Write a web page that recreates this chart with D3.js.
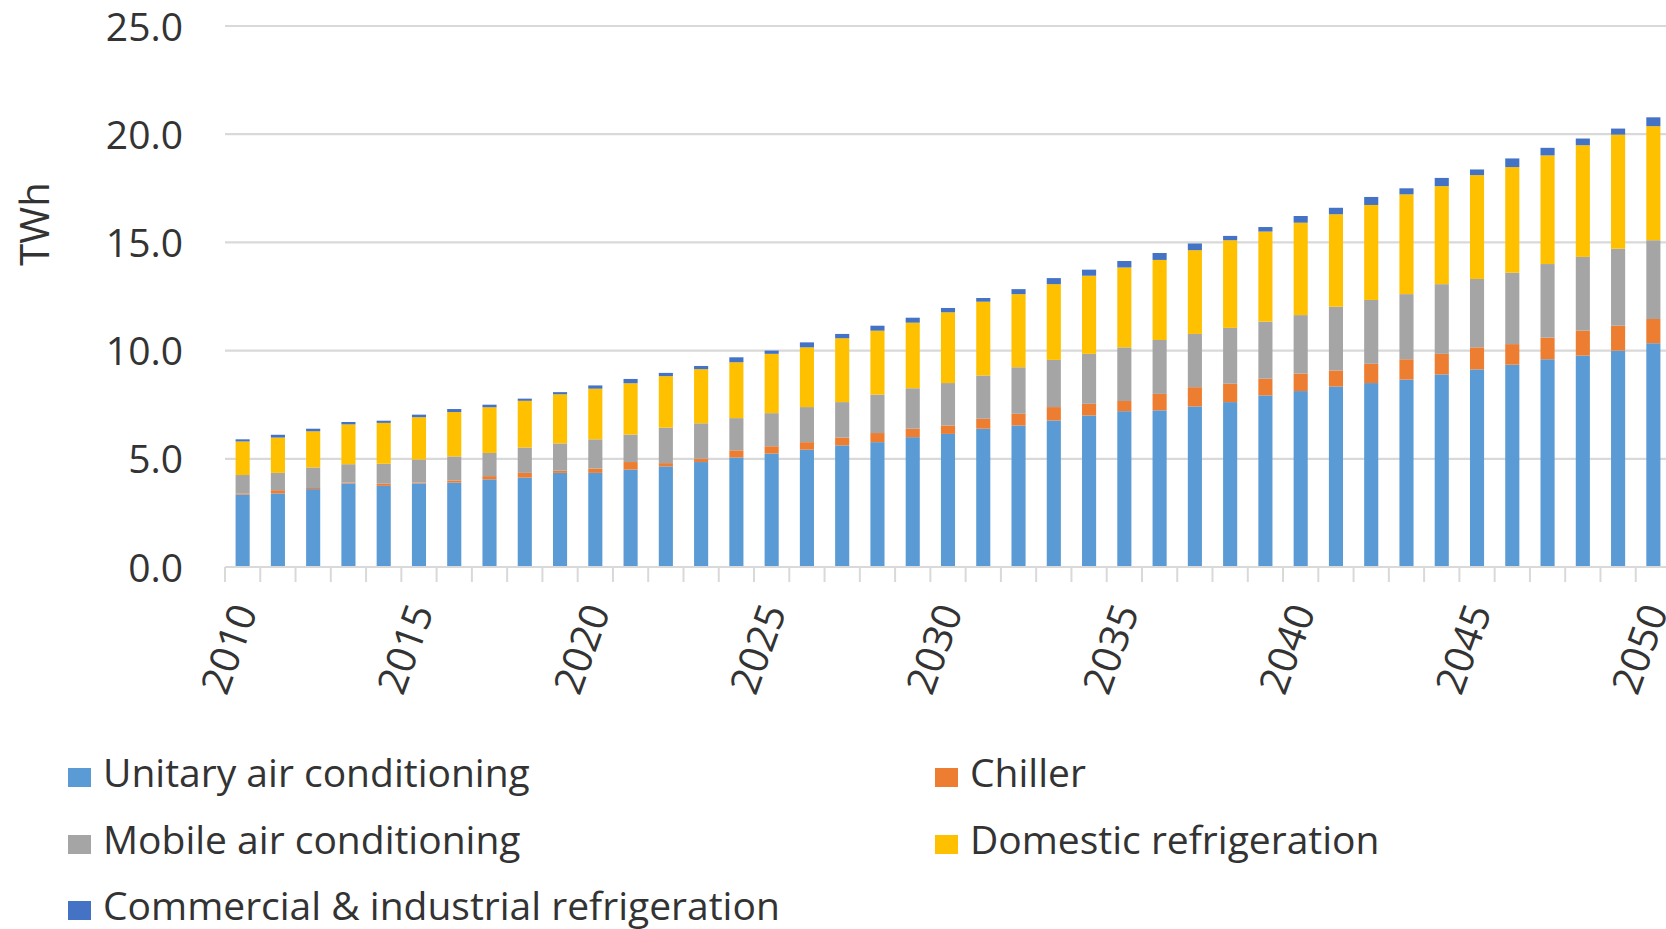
<!DOCTYPE html>
<html>
<head>
<meta charset="utf-8">
<script src="https://cdn.jsdelivr.net/npm/d3@7"></script>
<style>
  html, body { margin: 0; padding: 0; background: #fff; overflow: hidden; }
  svg { display: block; }
  text { font-family: "Open Sans", "DejaVu Sans", sans-serif; fill: #333; }
</style>
</head>
<body>
<svg id="chart" width="1666" height="929"></svg>
<script>
const years = d3.range(2010, 2051);
const unitary = [3.35,3.4,3.6,3.86,3.75,3.86,3.9,4.05,4.13,4.35,4.35,4.5,4.65,4.85,5.06,5.24,5.42,5.62,5.77,6.0,6.15,6.39,6.54,6.77,7.0,7.2,7.24,7.42,7.62,7.93,8.13,8.34,8.5,8.66,8.9,9.13,9.35,9.6,9.77,10.0,10.34];
const chiller = [0.05,0.15,0.05,0.04,0.1,0.04,0.1,0.15,0.22,0.1,0.2,0.35,0.15,0.15,0.33,0.34,0.35,0.36,0.42,0.39,0.39,0.46,0.54,0.62,0.54,0.47,0.76,0.89,0.85,0.77,0.81,0.74,0.89,0.94,0.95,1.02,0.95,1.0,1.15,1.15,1.12];
const mobile = [0.85,0.8,0.95,0.85,0.92,1.07,1.11,1.07,1.17,1.26,1.35,1.27,1.64,1.64,1.49,1.53,1.62,1.64,1.78,1.87,1.96,2.0,2.15,2.18,2.31,2.48,2.49,2.46,2.58,2.64,2.7,2.95,2.95,3.01,3.22,3.16,3.3,3.4,3.41,3.56,3.64];
const domestic = [1.55,1.63,1.67,1.84,1.89,1.95,2.05,2.11,2.16,2.27,2.34,2.37,2.38,2.5,2.58,2.74,2.76,2.95,2.95,3.03,3.27,3.41,3.38,3.5,3.61,3.69,3.7,3.87,4.05,4.16,4.27,4.27,4.39,4.61,4.53,4.8,4.88,5.02,5.16,5.27,5.27];
const commercial = [0.1,0.13,0.12,0.11,0.1,0.12,0.14,0.12,0.1,0.1,0.15,0.2,0.15,0.15,0.23,0.15,0.23,0.2,0.23,0.23,0.2,0.17,0.23,0.28,0.28,0.3,0.32,0.31,0.2,0.21,0.31,0.3,0.37,0.28,0.38,0.26,0.4,0.35,0.31,0.28,0.41];
const seriesNames = ["Unitary air conditioning","Chiller","Mobile air conditioning","Domestic refrigeration","Commercial & industrial refrigeration"];
const seriesKeys = ["unitary","chiller","mobile","domestic","commercial"];
const seriesColors = ["#5B9BD5","#ED7D31","#A5A5A5","#FFC000","#4472C4"];
const yTicks = [0,5,10,15,20,25];
const xTickLabels = [2010,2015,2020,2025,2030,2035,2040,2045,2050];
const yAxisTitle = "TWh";

const rows = years.map((y,i) => ({year:y, unitary:unitary[i], chiller:chiller[i], mobile:mobile[i], domestic:domestic[i], commercial:commercial[i]}));
const stacked = d3.stack().keys(seriesKeys)(rows);

const svg = d3.select("#chart");
const x = d3.scaleBand().domain(years).range([225, 1671]).paddingInner(0.6).paddingOuter(0.3);
const y = d3.scaleLinear().domain([0,25]).range([567, 26]);

// gridlines
svg.append("g").selectAll("line").data(yTicks.filter(d=>d>0)).join("line")
  .attr("x1", 225).attr("x2", 1671)
  .attr("y1", d=>y(d)).attr("y2", d=>y(d))
  .attr("stroke", "#d9d9d9").attr("stroke-width", 2.2);

// y axis labels
const yAxis = d3.axisLeft(y).tickValues(yTicks).tickFormat(d3.format(".1f")).tickSize(0).tickPadding(0);
const yg = svg.append("g").attr("transform","translate(183,0)").call(yAxis);
yg.select(".domain").remove();
yg.selectAll("text").style("font-size","39px").attr("fill","#333").attr("dy","0.36em").attr("x",0);

// bars
svg.append("g").selectAll("g").data(stacked).join("g")
  .attr("fill", (d,i)=>seriesColors[i])
  .selectAll("rect").data(d=>d).join("rect")
  .attr("x", d=>x(d.data.year))
  .attr("width", x.bandwidth())
  .attr("y", d=>y(d[1]))
  .attr("height", d=>Math.max(0, y(d[0]) - y(d[1])));

// x axis line and ticks (between categories)
const xg = svg.append("g");
xg.append("line").attr("x1",225).attr("x2",1671).attr("y1",y(0)).attr("y2",y(0))
  .attr("stroke","#d9d9d9").attr("stroke-width",2.2);
const step = x.step();
xg.selectAll("line.tick").data(d3.range(years.length+1)).join("line").attr("class","tick")
  .attr("x1", i=>225 + i*step).attr("x2", i=>225 + i*step)
  .attr("y1", y(0)).attr("y2", y(0)+15)
  .attr("stroke","#d9d9d9").attr("stroke-width",2);

// x labels
xg.selectAll("text").data(xTickLabels).join("text")
  .attr("transform", d=>`translate(${x(d)+x.bandwidth()/2+2},606) rotate(-70)`)
  .attr("text-anchor","end").attr("dy","0.35em")
  .style("font-size","40px")
  .text(d=>d);

// y axis title
svg.append("text")
  .attr("transform","translate(35,224) rotate(-90)")
  .attr("text-anchor","middle").attr("dy","0.35em")
  .style("font-size","40px")
  .text(yAxisTitle);

// legend
const legendPos = [[68,768],[935,768],[68,835],[935,835],[68,901]];
const lg = svg.append("g").selectAll("g").data(seriesNames).join("g")
  .attr("transform",(d,i)=>`translate(${legendPos[i][0]},${legendPos[i][1]})`);
lg.append("rect").attr("width",23).attr("height",19).attr("fill",(d,i)=>seriesColors[i]);
lg.append("text").attr("x",35).attr("y",19).style("font-size","39px").text(d=>d);
</script>
</body>
</html>
